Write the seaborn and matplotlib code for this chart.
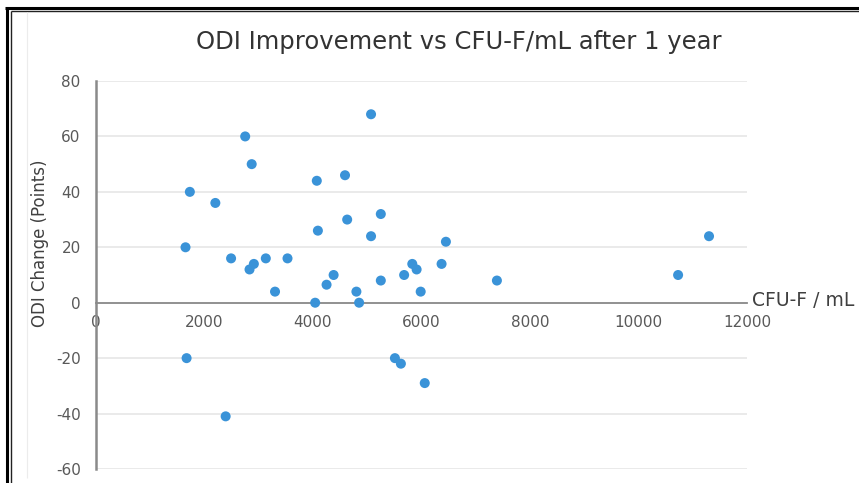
import matplotlib
matplotlib.use("Agg")
import matplotlib.pyplot as plt
from matplotlib.lines import Line2D
import seaborn as sns
import pandas as pd

# ---------------- data ----------------
title = "ODI Improvement vs CFU-F/mL after 1 year"
x_label = "CFU-F / mL"
y_label = "ODI Change (Points)"
x_ticks = [0, 2000, 4000, 6000, 8000, 10000, 12000]
y_ticks = [-60, -40, -20, 0, 20, 40, 60, 80]

cfu_f_per_ml = [1650, 1670, 1730, 2200, 2390, 2490, 2750, 2830, 2870, 2910,
                3130, 3300, 3530, 4040, 4070, 4090, 4250, 4380, 4590, 4630,
                4800, 4850, 5070, 5070, 5250, 5250, 5510, 5620, 5680, 5830,
                5910, 5985, 6060, 6370, 6450, 7390, 10730, 11300]
odi_change = [20, -20, 40, 36, -41, 16, 60, 12, 50, 14,
              16, 4, 16, 0, 44, 26, 6.5, 10, 46, 30,
              4, 0, 68, 24, 32, 8, -20, -22, 10, 14,
              12, 4, -29, 14, 22, 8, 10, 24]

# ---------------- style ----------------
sns.set_style("white")
plt.rcParams["font.family"] = ["DejaVu Sans"]

W, H = 859, 483
fig = plt.figure(figsize=(W / 100, H / 100), dpi=100)
fig.patch.set_facecolor("white")

ax = fig.add_axes([96 / W, 14 / H, 651 / W, 388 / H])
df = pd.DataFrame({"cfu": cfu_f_per_ml, "odi": odi_change})
sns.scatterplot(data=df, x="cfu", y="odi", ax=ax, color="#3a93d8",
                s=52, edgecolor="none", linewidth=0, zorder=3)

ax.set_xlim(0, 12000)
ax.set_ylim(-60, 80)
ax.set_xticks(x_ticks)
ax.set_xticklabels([str(t) for t in x_ticks])
ax.set_yticks(y_ticks)
ax.set_yticklabels([str(t) for t in y_ticks])
ax.set_xlabel("")
ax.set_ylabel("")

for s in ("top", "right"):
    ax.spines[s].set_visible(False)
ax.spines["bottom"].set_position(("data", 0))
ax.spines["bottom"].set_color("#8a8a8a")
ax.spines["bottom"].set_linewidth(1.3)
ax.spines["left"].set_color("#8a8a8a")
ax.spines["left"].set_linewidth(1.8)

ax.set_axisbelow(True)
ax.yaxis.grid(True, color="#e8e8e8", linewidth=1.3)
ax.xaxis.grid(False)
ax.tick_params(axis="both", length=0, labelsize=11, labelcolor="#595959")
ax.tick_params(axis="x", pad=9)
ax.tick_params(axis="y", pad=11)

# ---------------- texts ----------------
fig.text(459 / W, 1 - 42 / H, title, ha="center", va="center",
         fontsize=17.5, color="#333333")
fig.text(752 / W, 1 - 300 / H, x_label, ha="left", va="center",
         fontsize=13.5, color="#404040")
fig.text(40 / W, 1 - 243 / H, y_label, rotation=90, ha="center", va="center",
         fontsize=12, color="#404040")

# ---------------- frame ----------------
def px(x, y):
    return x / W, 1 - y / H

lines = [
    # outer thick frame
    ([6.5, 6.5], [7.5, H], 2.2, "black"),
    ([5, W], [7.5, 7.5], 2.2, "black"),
    # inner thin frame
    ([10.7, 10.7], [11.3, H], 1.0, "#222222"),
    ([10.7, W], [11.3, 11.3], 1.0, "#222222"),
    # faint chart-area edge
    ([26.5, 26.5], [12, 478], 0.8, "#ececec"),
]
for xs, ys, lw, c in lines:
    fx = [x / W for x in xs]
    fy = [1 - y / H for y in ys]
    fig.add_artist(Line2D(fx, fy, transform=fig.transFigure, lw=lw, color=c,
                          solid_capstyle="butt"))

fig.savefig("out.png", dpi=100)
